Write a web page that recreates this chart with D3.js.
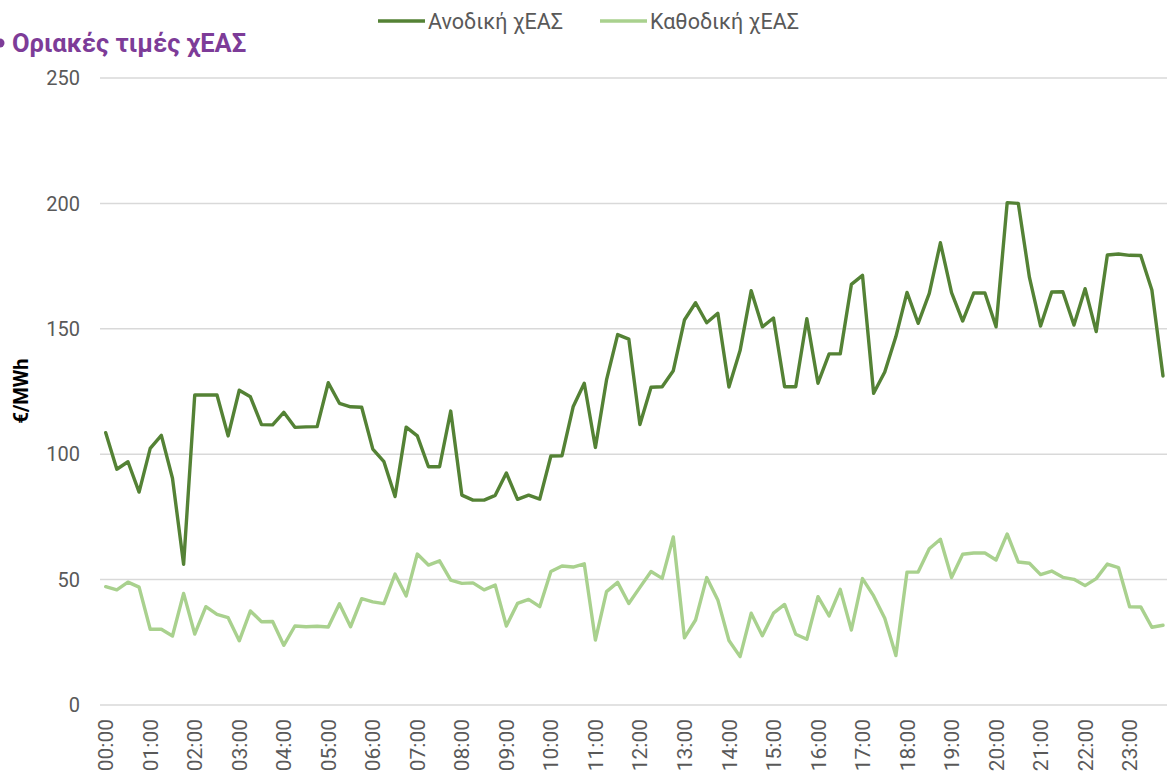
<!DOCTYPE html>
<html><head><meta charset="utf-8">
<script src="https://cdn.jsdelivr.net/npm/d3@7"></script>
<style>
html,body{margin:0;padding:0;background:#fff;overflow:hidden}
text{font-family:Roboto,"Noto Sans",sans-serif}
</style></head>
<body>
<svg id="chart" width="1167" height="776"></svg>
<script>
const title = "Οριακές τιμές χΕΑΣ";
const yTitle = "€/MWh";
const seriesNames = ["Ανοδική χΕΑΣ", "Καθοδική χΕΑΣ"];
const yTicks = [0, 50, 100, 150, 200, 250];
const hourLabels = ["00:00","01:00","02:00","03:00","04:00","05:00","06:00","07:00","08:00","09:00","10:00","11:00","12:00","13:00","14:00","15:00","16:00","17:00","18:00","19:00","20:00","21:00","22:00","23:00"];
const quarters = ["00","15","30","45"];
const times = hourLabels.flatMap(h => quarters.map(q => h.slice(0,3) + q));

const upward = [108.6,94.0,97.0,84.9,102.3,107.5,90.4,56.1,123.6,123.6,123.6,107.3,125.5,122.9,111.8,111.7,116.7,110.7,110.9,111.0,
128.5,120.3,118.9,118.7,102.0,97.0,83.1,110.8,107.3,95.0,95.0,117.2,83.7,81.7,81.7,83.6,92.5,82.0,83.7,82.1,
99.3,99.4,118.9,128.3,102.7,129.6,147.7,145.9,111.8,126.7,126.9,133.3,153.5,160.4,152.4,156.2,126.8,141.3,165.2,150.8,
154.3,126.9,126.9,154.0,128.3,140.0,140.0,167.7,171.3,124.3,132.8,146.9,164.5,152.2,164.1,184.3,164.4,153.1,164.3,164.3,
150.8,200.3,200.0,170.5,151.1,164.7,164.8,151.5,166.0,148.9,179.4,179.8,179.3,179.2,165.5,131.2];

const downward = [47.2,45.9,49.0,47.0,30.2,30.2,27.5,44.5,28.3,39.2,36.1,34.8,25.6,37.5,33.2,33.3,23.8,31.5,31.2,31.4,
31.1,40.4,31.2,42.4,41.1,40.4,52.2,43.5,60.2,55.8,57.5,49.8,48.5,48.7,45.9,47.8,31.5,40.5,42.1,39.2,
53.2,55.4,55.0,56.3,25.9,45.2,48.9,40.5,46.9,53.2,50.5,67.0,26.8,33.9,50.8,41.9,25.7,19.3,36.6,27.6,
36.6,40.1,28.2,26.2,43.2,35.5,46.1,29.9,50.4,43.5,34.6,19.7,53.0,53.0,62.3,66.1,50.8,60.1,60.6,60.6,
57.8,68.2,57.0,56.5,52.0,53.4,50.9,50.1,47.6,50.4,56.2,54.8,39.2,39.1,31.0,31.8];

const colors = ["#548235", "#A9D18E"];

const svg = d3.select("#chart");
const x = d3.scalePoint().domain(times).range([105.7, 1163]);
const y = d3.scaleLinear().domain([0, 250]).range([705, 78]);

// gridlines
svg.append("g").selectAll("line").data(yTicks).join("line")
  .attr("x1", 100).attr("x2", 1167)
  .attr("y1", d => y(d)).attr("y2", d => y(d))
  .attr("stroke", "#D9D9D9").attr("stroke-width", 1.5);

// y tick labels
svg.append("g").selectAll("text").data(yTicks).join("text")
  .attr("x", 80).attr("y", d => y(d)).attr("dy", "0.36em")
  .attr("text-anchor", "end").attr("font-size", 20).attr("fill", "#595959")
  .text(d => d);

// x tick labels
svg.append("g").selectAll("text").data(hourLabels).join("text")
  .attr("transform", d => `translate(${x(d)},719) rotate(-90)`)
  .attr("dy", "0.36em").attr("text-anchor", "end")
  .attr("font-size", 21).attr("fill", "#595959")
  .text(d => d);

// y title
svg.append("text")
  .attr("transform", "translate(21,391) rotate(-90)")
  .attr("dy", "0.36em").attr("text-anchor", "middle")
  .attr("font-size", 20).attr("font-weight", "bold").attr("fill", "#000")
  .text(yTitle);

// lines
const line = d3.line().x((d, i) => x(times[i])).y(d => y(d));
[upward, downward].forEach((s, k) => {
  svg.append("path").datum(s)
    .attr("fill", "none").attr("stroke", colors[k]).attr("stroke-width", 3.4)
    .attr("stroke-linejoin", "round").attr("stroke-linecap", "round")
    .attr("d", line);
});

// legend
const legX = [378, 600];
seriesNames.forEach((n, k) => {
  svg.append("line").attr("x1", legX[k]).attr("x2", legX[k] + 47)
    .attr("y1", 21).attr("y2", 21).attr("stroke", colors[k]).attr("stroke-width", 3.4);
  svg.append("text").attr("x", legX[k] + 50).attr("y", 21).attr("dy", "0.36em")
    .attr("font-size", 21.5).attr("fill", "#595959").text(n);
});

// title
svg.append("circle").attr("cx", 0).attr("cy", 43).attr("r", 4.5).attr("fill", "#7D3C98");
svg.append("text").attr("x", 12).attr("y", 43).attr("dy", "0.36em")
  .attr("font-size", 25.5).attr("font-weight", "bold").attr("fill", "#7D3C98")
  .text(title);
</script>
</body></html>
